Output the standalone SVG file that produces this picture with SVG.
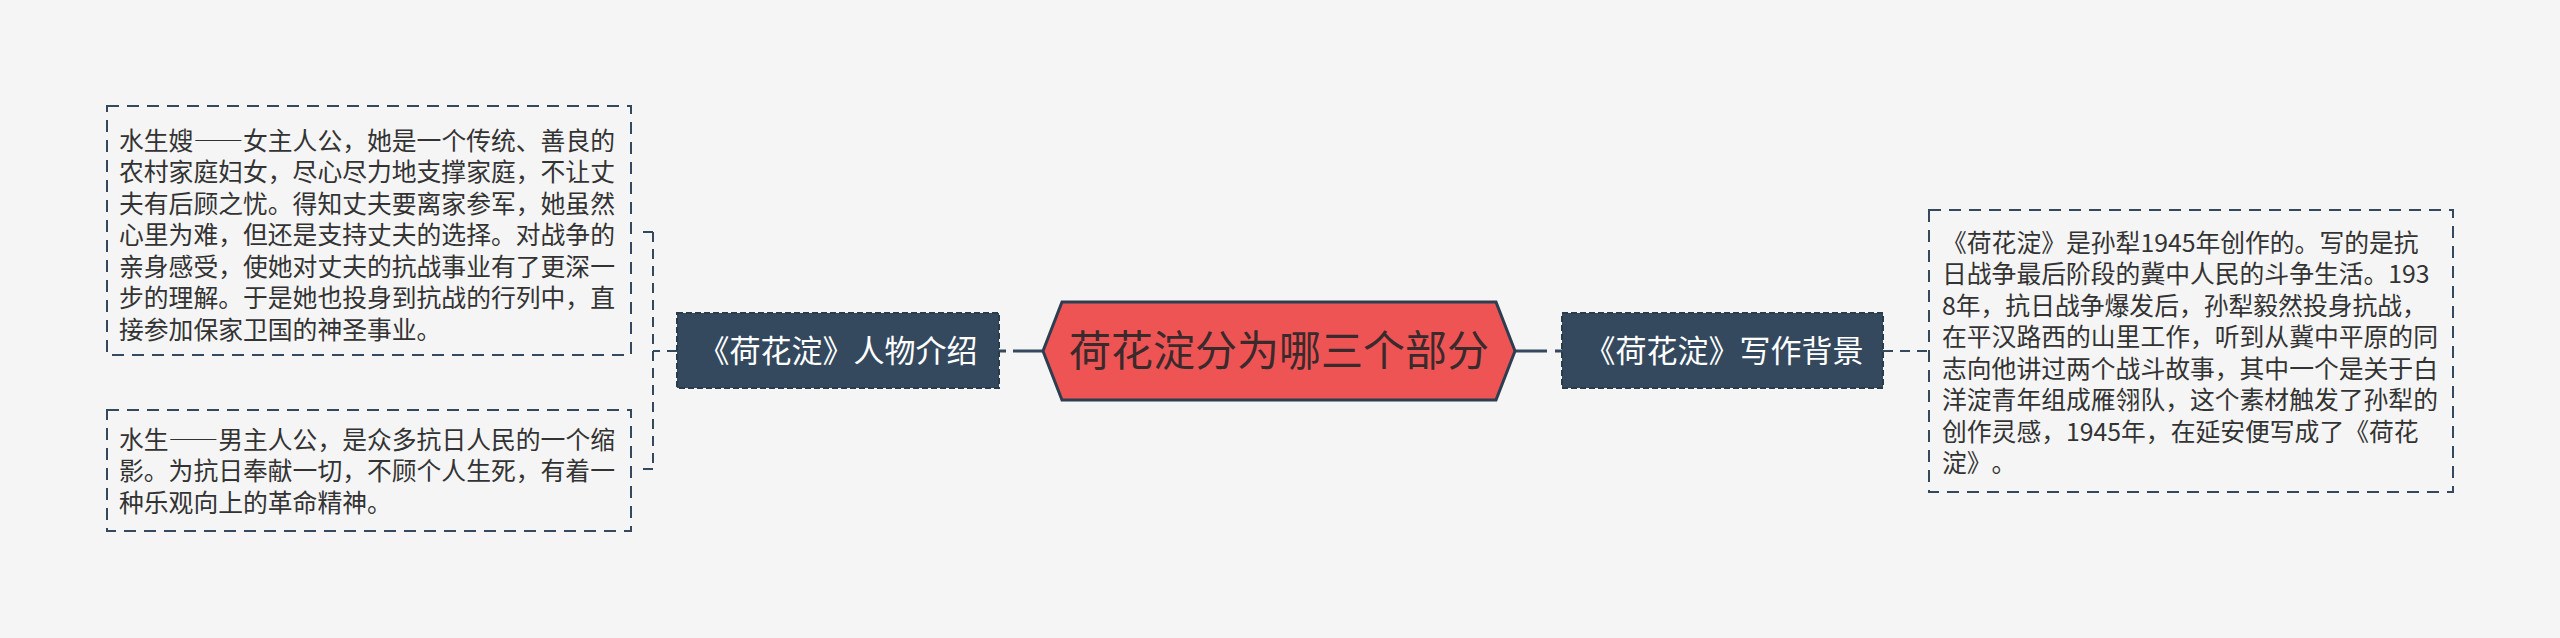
<svg xmlns="http://www.w3.org/2000/svg" width="2560" height="638" viewBox="0 0 2560 638">
<style>
.bg{fill:#f5f5f5}
.box{fill:#f5f5f5;stroke:#34495e;stroke-width:2;stroke-dasharray:12 8}
.child{fill:#34495e;stroke:#2a3b4c;stroke-width:2;stroke-dasharray:6 3}
text{text-spacing-trim:space-all}
.t{font-family:"Noto Sans CJK SC","Noto Sans",sans-serif;font-size:24.8px;fill:#333333}
.ct{font-family:"Noto Sans CJK SC","Noto Sans",sans-serif;font-size:31px;fill:#ffffff;text-anchor:middle}
.mt{font-family:"Noto Sans CJK SC","Noto Sans",sans-serif;font-size:42px;fill:#3a2a2c;text-anchor:middle}
.fw{font-feature-settings:"fwid"}
.dash{fill:none;stroke:#34495e;stroke-width:2;stroke-dasharray:10 7}
.solid{fill:none;stroke:#34495e;stroke-width:3}
</style>
<rect class="bg" x="0" y="0" width="2560" height="638"/>
<g id="connectors">
  <path class="dash" d="M677,351 H653 M653,232 V469 M653,232 H640 M653,469 H640"/>
  <path class="solid" d="M999,351 H1006 M1013,351 H1043"/>
  <path class="solid" d="M1515,351 H1547 M1555,351 H1562"/>
  <path class="dash" d="M1883,351 H1927 V357"/>
</g>
<g id="center">
  <polygon points="1043,351 1062,302 1496,302 1515,351 1496,400 1062,400" fill="#ef5455" stroke="#2c3e50" stroke-width="3"/>
  <text class="mt" x="1279" y="366">荷花淀分为哪三个部分</text>
</g>
<g id="node-left">
  <rect class="child" x="677" y="313" width="322" height="75"/>
  <text class="ct" x="838" y="362">《荷花淀》人物介绍</text>
</g>
<g id="node-right">
  <rect class="child" x="1562" y="313" width="321" height="75"/>
  <text class="ct" x="1724" y="362">《荷花淀》写作背景</text>
</g>
<g id="leaf-shuishengsao">
  <rect class="box" x="107" y="106" width="524" height="249"/>
  <text class="t" x="119" y="149.5">水生嫂<tspan class="fw">——</tspan>女主人公，她是一个传统、善良的</text>
  <text class="t" x="119" y="181">农村家庭妇女，尽心尽力地支撑家庭，不让丈</text>
  <text class="t" x="119" y="212.5">夫有后顾之忧。得知丈夫要离家参军，她虽然</text>
  <text class="t" x="119" y="244">心里为难，但还是支持丈夫的选择。对战争的</text>
  <text class="t" x="119" y="275.5">亲身感受，使她对丈夫的抗战事业有了更深一</text>
  <text class="t" x="119" y="307">步的理解。于是她也投身到抗战的行列中，直</text>
  <text class="t" x="119" y="338.5">接参加保家卫国的神圣事业。</text>
</g>
<g id="leaf-shuisheng">
  <rect class="box" x="107" y="410" width="524" height="121"/>
  <text class="t" x="119" y="448.5">水生<tspan class="fw">——</tspan>男主人公，是众多抗日人民的一个缩</text>
  <text class="t" x="119" y="480">影。为抗日奉献一切，不顾个人生死，有着一</text>
  <text class="t" x="119" y="511.5">种乐观向上的革命精神。</text>
</g>
<g id="leaf-background">
  <rect class="box" x="1929" y="210" width="524" height="282"/>
  <text class="t" x="1942" y="251.5">《荷花淀》是孙犁1945年创作的。写的是抗</text>
  <text class="t" x="1942" y="283">日战争最后阶段的冀中人民的斗争生活。193</text>
  <text class="t" x="1942" y="314.5">8年，抗日战争爆发后，孙犁毅然投身抗战，</text>
  <text class="t" x="1942" y="346">在平汉路西的山里工作，听到从冀中平原的同</text>
  <text class="t" x="1942" y="377.5">志向他讲过两个战斗故事，其中一个是关于白</text>
  <text class="t" x="1942" y="409">洋淀青年组成雁翎队，这个素材触发了孙犁的</text>
  <text class="t" x="1942" y="440.5">创作灵感，1945年，在延安便写成了《荷花</text>
  <text class="t" x="1942" y="472">淀》。</text>
</g>
</svg>
